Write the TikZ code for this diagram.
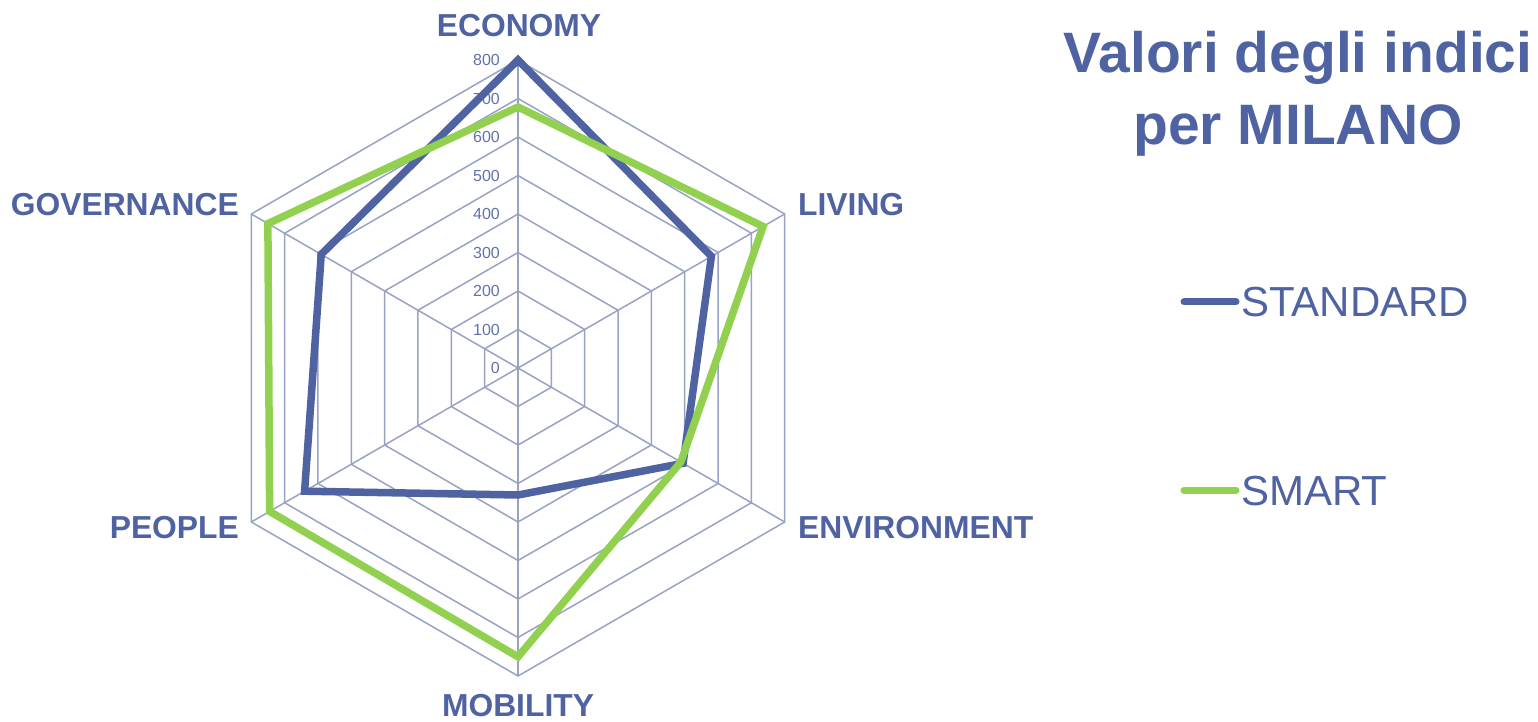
\documentclass[tikz,border=0pt]{standalone}
\usepackage{fontspec}
\setmainfont{Liberation Sans}
\definecolor{mainblue}{RGB}{79,99,162}
\definecolor{tickblue}{RGB}{96,114,172}
\definecolor{gridc}{RGB}{152,162,196}
\definecolor{smartgreen}{RGB}{146,208,80}
\begin{document}
\begin{tikzpicture}[x=1pt,y=1pt,
  gridline/.style={draw=gridc, line width=1.5pt},
  series/.style={line width=7.5pt, line join=miter},
  cat/.style={font=\fontsize{31.8}{32}\selectfont\bfseries, text=mainblue, inner sep=0pt},
  ticklbl/.style={font=\fontsize{16}{16}\selectfont, text=tickblue, inner sep=0pt, anchor=east},
  titletext/.style={font=\fontsize{57}{72}\selectfont\bfseries, text=mainblue, inner sep=0pt, anchor=base},
  legtext/.style={font=\fontsize{42}{42}\selectfont, text=mainblue, inner sep=0pt, anchor=base west},
  legline/.style={line width=7pt, line cap=round}]
\useasboundingbox (0,0) rectangle (1538,721);

\begin{scope}[shift={(518,353)}]
  \coordinate (c) at (0,0);
  % axis ends
  \coordinate (axEco) at (90:308);
  \coordinate (axLiv) at (30:308);
  \coordinate (axEnv) at (-30:308);
  \coordinate (axMob) at (-90:308);
  \coordinate (axPeo) at (210:308);
  \coordinate (axGov) at (150:308);
  % rings
  \foreach \k [evaluate=\k as \r using \k*38.5] in {1,...,8}{
    \draw[gridline] (90:\r) -- (30:\r) -- (-30:\r) -- (-90:\r) -- (210:\r) -- (150:\r) -- cycle;
  }
  % spokes
  \foreach \e in {axEco,axLiv,axEnv,axMob,axPeo,axGov}{
    \draw[gridline] (c) -- (\e);
  }
  % tick labels
  \foreach \k [evaluate=\k as \r using \k*38.5, evaluate=\k as \v using int(\k*100)] in {0,...,8}{
    \node[ticklbl] (tick\k) at (-18,\r) {\v};
  }
  % STANDARD series
  \coordinate (st1) at (90:308);
  \coordinate (st2) at (30:223.3);
  \coordinate (st3) at (-30:190.6);
  \coordinate (st4) at (-90:127);
  \coordinate (st5) at (210:246.4);
  \coordinate (st6) at (150:227.2);
  \draw[series, mainblue] (st1) -- (st2) -- (st3) -- (st4) -- (st5) -- (st6) -- cycle;
  % SMART series
  \coordinate (sm1) at (90:261);
  \coordinate (sm2) at (30:283);
  \coordinate (sm3) at (-30:188);
  \coordinate (sm4) at (-90:288.8);
  \coordinate (sm5) at (210:286.8);
  \coordinate (sm6) at (150:288.8);
  \draw[series, smartgreen] (sm1) -- (sm2) -- (sm3) -- (sm4) -- (sm5) -- (sm6) -- cycle;
\end{scope}

% category labels
\node[cat, anchor=base] (lEco) at (519,684) {ECONOMY};
\node[cat, anchor=base west] (lLiv) at (798,505) {LIVING};
\node[cat, anchor=base west] (lEnv) at (798,183) {ENVIRONMENT};
\node[cat, anchor=base] (lMob) at (518,5) {MOBILITY};
\node[cat, anchor=base east] (lPeo) at (239,183) {PEOPLE};
\node[cat, anchor=base east] (lGov) at (239,505) {GOVERNANCE};

% title
\node[titletext] (title1) at (1298,648) {Valori degli indici};
\node[titletext] (title2) at (1298,576) {per MILANO};

% legend
\coordinate (lgA1) at (1184,419);
\coordinate (lgA2) at (1236,419);
\draw[legline, mainblue] (lgA1) -- (lgA2);
\node[legtext] (legStd) at (1241,404) {STANDARD};
\coordinate (lgB1) at (1184,231);
\coordinate (lgB2) at (1236,231);
\draw[legline, smartgreen] (lgB1) -- (lgB2);
\node[legtext] (legSm) at (1241,216) {SMART};
\end{tikzpicture}
\end{document}
